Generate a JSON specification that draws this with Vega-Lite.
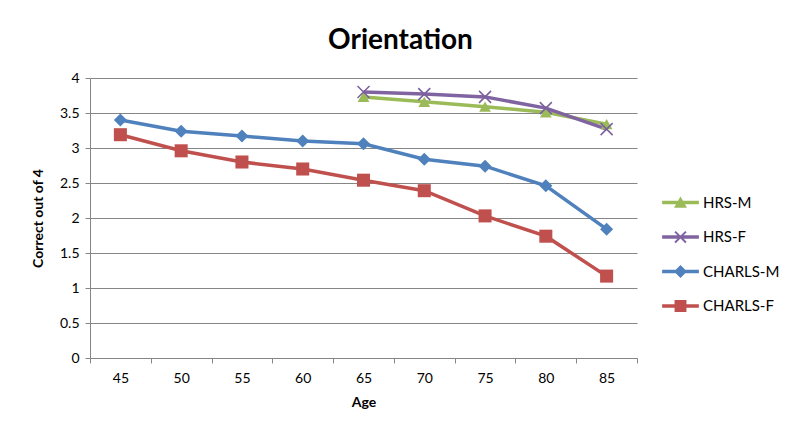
{
  "$schema": "https://vega.github.io/schema/vega-lite/v6.json",
  "autosize": {"type": "none"},
  "width": 547,
  "height": 280,
  "padding": {"left": 90, "top": 78, "right": 163, "bottom": 87},
  "background": "white",
  "config": {
    "font": "Lato",
    "view": {"stroke": null},
    "axis": {"labelFont": "Lato", "titleFont": "Lato", "labelColor": "#000", "titleColor": "#000"}
  },
  "title": {"text": "Orientation", "fontSize": 28, "fontWeight": "bold", "font": "Lato", "color": "#000", "anchor": "middle", "dx": 37, "offset": 16},
  "data": {"values": [
    {"age": 45, "series": "CHARLS-M", "value": 3.40},
    {"age": 50, "series": "CHARLS-M", "value": 3.24},
    {"age": 55, "series": "CHARLS-M", "value": 3.17},
    {"age": 60, "series": "CHARLS-M", "value": 3.10},
    {"age": 65, "series": "CHARLS-M", "value": 3.06},
    {"age": 70, "series": "CHARLS-M", "value": 2.84},
    {"age": 75, "series": "CHARLS-M", "value": 2.74},
    {"age": 80, "series": "CHARLS-M", "value": 2.46},
    {"age": 85, "series": "CHARLS-M", "value": 1.84},
    {"age": 45, "series": "CHARLS-F", "value": 3.19},
    {"age": 50, "series": "CHARLS-F", "value": 2.96},
    {"age": 55, "series": "CHARLS-F", "value": 2.80},
    {"age": 60, "series": "CHARLS-F", "value": 2.70},
    {"age": 65, "series": "CHARLS-F", "value": 2.54},
    {"age": 70, "series": "CHARLS-F", "value": 2.39},
    {"age": 75, "series": "CHARLS-F", "value": 2.03},
    {"age": 80, "series": "CHARLS-F", "value": 1.74},
    {"age": 85, "series": "CHARLS-F", "value": 1.17},
    {"age": 65, "series": "HRS-M", "value": 3.73},
    {"age": 70, "series": "HRS-M", "value": 3.66},
    {"age": 75, "series": "HRS-M", "value": 3.59},
    {"age": 80, "series": "HRS-M", "value": 3.51},
    {"age": 85, "series": "HRS-M", "value": 3.34},
    {"age": 65, "series": "HRS-F", "value": 3.80},
    {"age": 70, "series": "HRS-F", "value": 3.77},
    {"age": 75, "series": "HRS-F", "value": 3.73},
    {"age": 80, "series": "HRS-F", "value": 3.57},
    {"age": 85, "series": "HRS-F", "value": 3.27}
  ]},
  "encoding": {
    "x": {
      "field": "age", "type": "ordinal", "sort": "ascending",
      "scale": {"paddingInner": 0, "paddingOuter": 0},
      "axis": {"title": "Age", "titleFontSize": 14, "titleFontWeight": "bold", "titlePadding": 10, "labelFontSize": 14, "labelAngle": 0, "labelPadding": 8, "tickBand": "extent", "tickSize": 5, "tickColor": "#868686", "domainColor": "#868686", "grid": false}
    },
    "y": {
      "field": "value", "type": "quantitative",
      "scale": {"domain": [0, 4], "nice": false, "zero": true},
      "axis": {"title": "Correct out of 4", "titleFontSize": 14, "titleFontWeight": "bold", "titlePadding": 14, "labelFontSize": 14, "values": [0, 0.5, 1, 1.5, 2, 2.5, 3, 3.5, 4], "format": "~g", "tickSize": 5, "tickColor": "#868686", "domainColor": "#868686", "gridColor": "#868686", "gridWidth": 1, "labelPadding": 6}
    }
  },
  "layer": [
    {
      "mark": {"type": "point", "filled": true, "size": 0},
      "encoding": {
        "color": {
          "field": "series", "type": "nominal",
          "scale": {"domain": ["HRS-M", "HRS-F", "CHARLS-M", "CHARLS-F"], "range": ["#9BBB59", "#8064A2", "#4F81BD", "#C0504D"]},
          "legend": {"title": null, "orient": "none", "legendX": 573, "legendY": 107, "symbolSize": 1225, "symbolStrokeWidth": 0, "symbolOpacity": 1, "labelFontSize": 15, "labelFont": "Lato", "labelColor": "#000", "labelOffset": 5, "rowPadding": 8.5, "offset": 0}
        },
        "shape": {
          "field": "series", "type": "nominal",
          "scale": {"domain": ["HRS-M", "HRS-F", "CHARLS-M", "CHARLS-F"], "range": [
            "M-1.05,-0.1L1.05,-0.1L1.05,0.1L-1.05,0.1Z M0,-0.34L0.37,0.3L-0.37,0.3Z",
            "M-1.05,-0.1L1.05,-0.1L1.05,0.1L-1.05,0.1Z M-0.27,-0.35L0.35,0.27L0.27,0.35L-0.35,-0.27Z M-0.35,0.27L0.27,-0.35L0.35,-0.27L-0.27,0.35Z",
            "M-1.05,-0.1L1.05,-0.1L1.05,0.1L-1.05,0.1Z M0,-0.37L0.37,0L0,0.37L-0.37,0Z",
            "M-1.05,-0.1L1.05,-0.1L1.05,0.1L-1.05,0.1Z M-0.34,-0.34L0.34,-0.34L0.34,0.34L-0.34,0.34Z"
          ]},
          "legend": {"title": null, "orient": "none", "legendX": 573, "legendY": 107, "symbolSize": 1225, "symbolStrokeWidth": 0, "symbolOpacity": 1, "labelFontSize": 15, "labelFont": "Lato", "labelColor": "#000", "labelOffset": 5, "rowPadding": 8.5, "offset": 0}
        }
      }
    },
    {"mark": {"type": "line", "strokeWidth": 3.5},
     "encoding": {"color": {"field": "series", "type": "nominal", "legend": null}}},
    {"transform": [{"filter": "datum.series === 'HRS-M'"}], "mark": {"type": "point", "shape": "triangle-up", "filled": true, "opacity": 1, "size": 140, "color": "#9BBB59"}},
    {"transform": [{"filter": "datum.series === 'HRS-F'"}], "mark": {"type": "point", "shape": "M-1,-1L1,1M-1,1L1,-1", "filled": false, "opacity": 1, "size": 144, "strokeWidth": 1.5, "color": "#7a5f9c"}},
    {"transform": [{"filter": "datum.series === 'CHARLS-M'"}], "mark": {"type": "point", "shape": "diamond", "filled": true, "opacity": 1, "size": 170, "color": "#4F81BD"}},
    {"transform": [{"filter": "datum.series === 'CHARLS-F'"}], "mark": {"type": "point", "shape": "square", "filled": true, "opacity": 1, "size": 170, "color": "#C0504D"}}
  ]
}
